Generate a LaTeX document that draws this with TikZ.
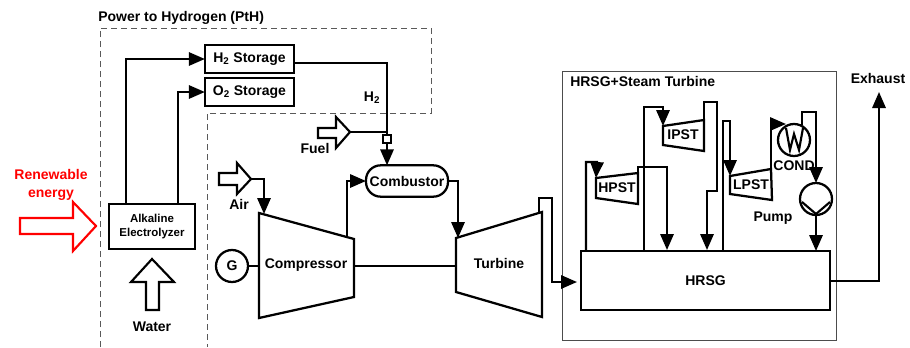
\documentclass[tikz,border=0pt]{standalone}
\usepackage{fontspec}
\setmainfont{Liberation Sans}
\usetikzlibrary{arrows.meta}
\tikzset{
    box/.style={draw=black, line width=1.7pt, inner sep=0pt, outer sep=0pt},
    pipe/.style={black, line width=1.6pt, line join=miter},
    flow/.style={pipe, -{Triangle[length=12pt,width=10pt]}},
    machine/.style={draw=black, line width=1.7pt, line join=miter},
    blockarrow/.style={draw=black, line width=1.6pt, fill=white, line join=miter},
    txt/.style={font=\bfseries\fontsize{10.5pt}{13.5pt}\selectfont, inner sep=0pt, align=center},
}
\begin{document}
\begin{tikzpicture}[x=0.75pt, y=-0.75pt]
    \useasboundingbox (0,0) rectangle (910,347);

    % PtH region
    \draw[black!65, line width=0.7pt, dash pattern=on 4.5pt off 3pt]
        (100,347) -- (100,28) -- (431,28) -- (431,113) -- (207,113) -- (207,347);
    \node[txt, anchor=west] (pthlabel) at (98,18) {Power to Hydrogen (PtH)};

    % Steam cycle frame
    \draw[black!70, line width=0.6pt] (562,340) rectangle (836,71);
    \node[txt, anchor=west] (steamlabel) at (570,81) {HRSG+Steam Turbine};

    % Boxes
    \node[box, minimum width=67pt, minimum height=21pt, txt] (h2store) at (249.5,59) {H\textsubscript{2} Storage};
    \node[box, minimum width=67pt, minimum height=21pt, txt] (o2store) at (249.5,92) {O\textsubscript{2} Storage};
    \node[box, minimum width=64.5pt, minimum height=34pt, txt, font=\bfseries\fontsize{8.6pt}{10.6pt}\selectfont] (electro) at (152,226.5) {Alkaline\\Electrolyzer};
    \node[box, rounded corners=11pt, minimum width=61.5pt, minimum height=23.5pt, txt] (combustor) at (407,181) {Combustor};
    \node[box, minimum width=186.75pt, minimum height=44.25pt, txt] (hrsg) at (705.5,280.5) {HRSG};
    \node[box, minimum size=5.5pt] (mixer) at (387,139) {};
    \node[box, circle, minimum size=24pt, txt] (gen) at (232,266) {G};

    % Compressor and turbine
    \coordinate (compa) at (259,213);
    \coordinate (compb) at (354,239);
    \draw[machine] (compa) -- (compb) -- (354,297) -- (259,318) -- cycle;
    \node[txt] (compressor) at (306,265) {Compressor};
    \coordinate (turba) at (456,238);
    \coordinate (turbb) at (542,212);
    \draw[machine] (turba) -- (turbb) -- (542,317) -- (456,292) -- cycle;
    \node[txt] (turbine) at (499,263) {Turbine};

    % Steam turbines
    \coordinate (hpin) at (596,178);
    \coordinate (hpout) at (638,173);
    \draw[machine] (hpin) -- (hpout) -- (638,204) -- (596,198) -- cycle;
    \node[txt] (hpst) at (617,188) {HPST};
    \coordinate (ipin) at (663,126);
    \coordinate (ipout) at (704,120);
    \draw[machine] (ipin) -- (ipout) -- (704,151) -- (663,145) -- cycle;
    \node[txt] (ipst) at (683,135) {IPST};
    \coordinate (lpin) at (730,176);
    \coordinate (lpout) at (771,169);
    \draw[machine] (lpin) -- (lpout) -- (772,200) -- (730,194) -- cycle;
    \node[txt] (lpst) at (751,185) {LPST};

    % Condenser and pump
    \node[box, circle, minimum size=24pt] (cond) at (794,140) {};
    \draw[pipe] (786,128) -- (790,150) -- (794,134) -- (799,150) -- (803,128);
    \node[txt] (condlabel) at (794,166) {COND};
    \node[box, circle, minimum size=24pt] (pump) at (816,199) {};
    \draw[pipe] (802,202) -- (816,214) -- (830,202);
    \node[txt] (pumplabel) at (773,218) {Pump};

    % Block arrows
    \draw[blockarrow, draw=red] (20,218) -- (73,218) -- (73,202) -- (96,226) -- (73,251) -- (73,234) -- (20,234) -- cycle;
    \coordinate (fueltip) at (350,132);
    \draw[blockarrow] (318,128) -- (336,128) -- (336,117) -- (fueltip) -- (336,148) -- (336,138) -- (318,138) -- cycle;
    \coordinate (airtip) at (251,179);
    \draw[blockarrow] (219,173) -- (237,173) -- (237,163) -- (airtip) -- (237,194) -- (237,185) -- (219,185) -- cycle;
    \draw[blockarrow] (152,259) -- (174,282) -- (159,282) -- (159,310) -- (146,310) -- (146,282) -- (131,282) -- cycle;

    % Labels
    \node[txt, text=red] (renew) at (51,185) {Renewable\\energy};
    \node[txt] (fuel) at (315,148) {Fuel};
    \node[txt] (air) at (239,204) {Air};
    \node[txt] (water) at (152,327) {Water};
    \node[txt] (h2label) at (372,98) {H\textsubscript{2}};
    \node[txt] (exhaust) at (878,78) {Exhaust};

    % Hydrogen side
    \draw[flow] (electro.north -| 126,0) |- (h2store.west);
    \draw[flow] (electro.north -| 178,0) |- (o2store.west);
    \draw[pipe] (294,63) -| (mixer.north);
    \draw[pipe] (fueltip) -| (mixer.north);
    \draw[flow] (mixer.south) -- (mixer.south |- combustor.north);

    % Gas turbine side
    \draw[flow] (airtip) -| (264,214);
    \draw[pipe] (gen.east) -- (259,266);
    \draw[flow] (347,237) |- (combustor.west);
    \draw[flow] (combustor.east) -| (458,238);
    \draw[pipe] (354,266) -- (456,266);
    \draw[flow] (539,213) |- (552,198) |- (577,282);

    % Steam side
    \draw[flow] (hrsg.north -| 586,0) |- (597,162) -- (hpin);
    \draw[flow] (hpout) |- (667,167) -- (667,250);
    \draw[flow] (hrsg.north -| 644,0) |- (663,107) -- (ipin);
    \draw[flow] (ipout) |- (717,102) |- (707,191) -- (707,250);
    \draw[flow] (hrsg.north -| 723,0) |- (730,121) -- (lpin);
    \draw[flow] (lpout) |- (786,124);
    \draw[flow] (802,125) |- (816,112) -- (pump.north);
    \draw[flow] (pump.south) -- (pump.south |- hrsg.north);
    \draw[flow] (hrsg.east |- 0,281) -| (879,92);
\end{tikzpicture}
\end{document}
